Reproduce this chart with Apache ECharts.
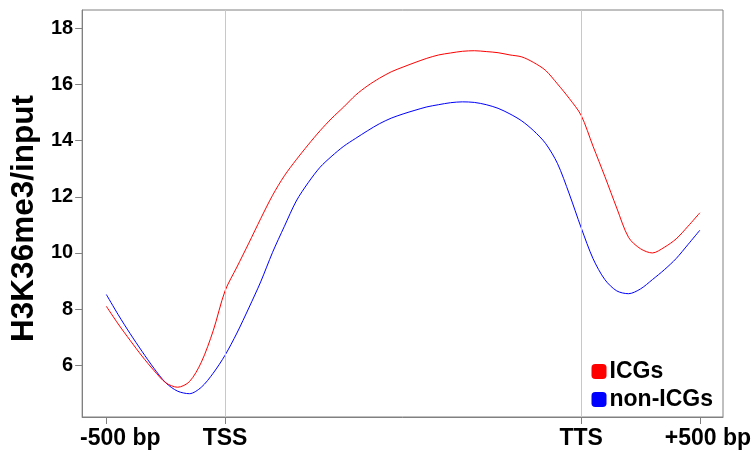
<!DOCTYPE html>
<html><head><meta charset="utf-8">
<script src="https://cdn.jsdelivr.net/npm/echarts@6/dist/echarts.min.js"></script>
<style>html,body{margin:0;padding:0;background:#fff}#c{width:756px;height:458px}</style>
</head><body><div id="c"></div>
<script>
// x in units: -500 bp = 0, TSS = 1, TTS = 4, +500 bp = 5 (gene body scaled)
const xPositions = [0.0,0.1,0.2,0.3,0.4,0.5,0.6,0.7,0.8,0.9,1.0,1.1,1.2,1.3,1.4,1.5,1.6,1.7,1.8,1.9,2.0,2.1,2.2,2.3,2.4,2.5,2.6,2.7,2.8,2.9,3.0,3.1,3.2,3.3,3.4,3.5,3.6,3.7,3.8,3.9,4.0,4.1,4.2,4.3,4.4,4.5,4.6,4.7,4.8,4.9,5.0];
const icgs = [8.10,7.47,6.89,6.33,5.82,5.38,5.22,5.42,6.11,7.23,8.65,9.50,10.35,11.22,12.05,12.75,13.32,13.85,14.35,14.80,15.20,15.62,15.95,16.22,16.45,16.62,16.78,16.93,17.05,17.12,17.18,17.20,17.17,17.13,17.05,16.98,16.78,16.50,16.02,15.50,14.90,13.80,12.72,11.60,10.55,10.15,10.00,10.20,10.50,10.95,11.43];
const nonIcgs = [8.52,7.80,7.13,6.50,5.90,5.38,5.08,4.99,5.22,5.72,6.36,7.15,8.04,8.97,10.02,10.95,11.85,12.50,13.05,13.45,13.80,14.08,14.35,14.60,14.80,14.95,15.08,15.20,15.28,15.35,15.38,15.36,15.28,15.15,14.95,14.70,14.35,13.90,13.19,12.10,10.90,9.80,9.05,8.65,8.55,8.72,9.05,9.40,9.80,10.30,10.81];
const xTickValues = [0,1,4,5];
const xTickLabels = ['-500 bp','TSS','TTS','+500 bp'];
const yTickValues = [6,8,10,12,14,16,18];
const boundaryPositions = [1,4];
const seriesNames = ['ICGs','non-ICGs'];

const chart = echarts.init(document.getElementById('c'), null, {renderer:'canvas'});
const font = 'Liberation Sans, Arial, sans-serif';
const frame = '#808080';
const labelStyle = {fontFamily:font, fontSize:23, fontWeight:'bold', color:'#000'};
chart.setOption({
  animation:false,
  backgroundColor:'#fff',
  grid:{left:80, right:33, top:10, bottom:41, show:true, borderColor:frame, borderWidth:1, containLabel:false},
  legend:{
    data:[{name:seriesNames[0], itemStyle:{color:'#ff0000'}},{name:seriesNames[1], itemStyle:{color:'#0000ff'}}],
    orient:'vertical', right:38, bottom:42, itemWidth:15, itemHeight:15, itemGap:5, icon:'roundRect',
    textStyle:{fontFamily:font, fontSize:23, fontWeight:'bold', color:'#000', padding:[0,0,0,-2]}
  },
  xAxis:{
    type:'value', min:-0.204, max:5.195,
    axisLine:{show:true, onZero:false, lineStyle:{color:frame, width:1}},
    axisTick:{show:true, customValues:xTickValues, length:7, lineStyle:{color:frame}},
    axisLabel:{customValues:xTickValues,
      formatter:v=>{const i=xTickValues.indexOf(v); return '{' + ['s','c','c','e'][i] + '|' + xTickLabels[i] + '}';},
      rich:{s:Object.assign({padding:[0,0,0,28]},labelStyle), c:Object.assign({},labelStyle), e:Object.assign({padding:[0,0,0,16]},labelStyle)},
      fontFamily:font, fontSize:23, fontWeight:'bold', color:'#000', margin:10},
    splitLine:{show:false}
  },
  yAxis:{
    type:'value', min:4.16, max:18.65,
    name:'H3K36me3/input', nameLocation:'middle', nameGap:37,
    nameTextStyle:{fontFamily:font, fontSize:31.5, fontWeight:'bold', color:'#000', padding:[0,10,0,0]},
    axisLine:{show:true, onZero:false, lineStyle:{color:frame, width:1}},
    axisTick:{show:true, customValues:yTickValues, length:7, lineStyle:{color:frame}},
    axisLabel:{customValues:yTickValues, fontFamily:font, fontSize:20, fontWeight:'bold', color:'#000', margin:9},
    splitLine:{show:false}
  },
  series:[
    {name:seriesNames[1], type:'line', data:xPositions.map((x,i)=>[x,nonIcgs[i]]), smooth:0.3, showSymbol:false, symbol:'none',
     lineStyle:{color:'#0000ff', width:1}, itemStyle:{color:'#0000ff'},
     markLine:{silent:true, symbol:'none', label:{show:false}, lineStyle:{color:'#c8c8c8', type:'solid', width:1},
       data:boundaryPositions.map(v=>({xAxis:v}))}},
    {name:seriesNames[0], type:'line', data:xPositions.map((x,i)=>[x,icgs[i]]), smooth:0.3, showSymbol:false, symbol:'none',
     lineStyle:{color:'#ff0000', width:1}, itemStyle:{color:'#ff0000'}}
  ]
});
</script></body></html>
